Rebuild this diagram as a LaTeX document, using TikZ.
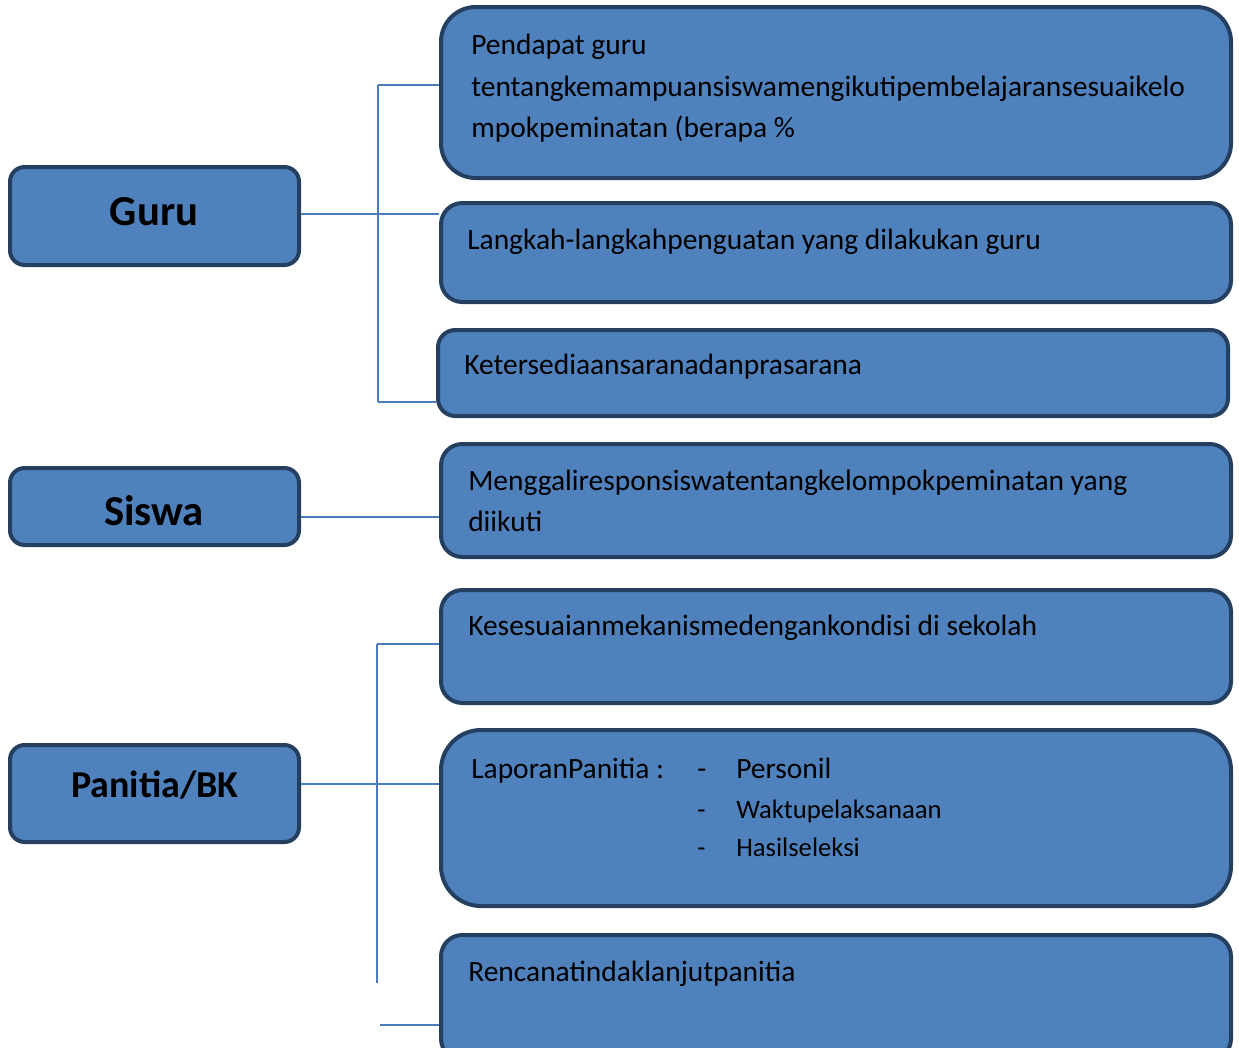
\documentclass[tikz,border=0pt]{standalone}
\usepackage{fontspec}
\setmainfont{Carlito}
\definecolor{boxfill}{HTML}{4F81BD}
\definecolor{boxline}{HTML}{243F60}
\definecolor{conn}{HTML}{4A7EBB}
\begin{document}
\begin{tikzpicture}[x=0.75pt,y=-0.75pt,
  box/.style={draw=boxline, fill=boxfill, line width=3pt, inner sep=0pt},
  lbl/.style={font=\fontsize{32}{38}\selectfont\bfseries, anchor=base, inner sep=0pt},
  txt/.style={font=\fontsize{22.1}{26}\selectfont, anchor=base west, inner sep=0pt},
  txs/.style={font=\fontsize{20}{24}\selectfont, anchor=base west, inner sep=0pt},
  conn/.style={draw=conn, line width=1.4pt}]
\useasboundingbox (0,0) rectangle (1239,1047);
% left boxes
\node[box, rounded corners=11pt, minimum width=289*0.75pt, minimum height=98*0.75pt] (guru) at (154.5,216) {};
\node[box, rounded corners=11pt, minimum width=289*0.75pt, minimum height=77*0.75pt] (siswa) at (154.5,506.5) {};
\node[box, rounded corners=11pt, minimum width=289*0.75pt, minimum height=97*0.75pt] (panitia) at (154.5,793.5) {};
\node[lbl] (guruT) at (154,225) {Guru};
\node[lbl] (siswaT) at (154,525) {Siswa};
\node[lbl, font=\fontsize{28.5}{34}\selectfont\bfseries] (panitiaT) at (155,797) {Panitia/BK};
% right boxes
\node[box, rounded corners=26pt, minimum width=790*0.75pt, minimum height=171*0.75pt] (b1) at (836,92.5) {};
\node[box, rounded corners=16pt, minimum width=790*0.75pt, minimum height=99*0.75pt] (b2) at (836,252.5) {};
\node[box, rounded corners=13pt, minimum width=790*0.75pt, minimum height=86*0.75pt] (b3) at (833,373) {};
\node[box, rounded corners=16pt, minimum width=790*0.75pt, minimum height=113*0.75pt] (b4) at (836,500.5) {};
\node[box, rounded corners=16pt, minimum width=790*0.75pt, minimum height=113*0.75pt] (b5) at (836,646.5) {};
\node[box, rounded corners=30pt, minimum width=790*0.75pt, minimum height=176*0.75pt] (b6) at (836,818) {};
\node[box, rounded corners=16pt, minimum width=790*0.75pt, minimum height=125*0.75pt] (b7) at (836,997.5) {};
% texts
\node[txt] (t1a) at (471,54) {Pendapat guru};
\node[txt] (t1b) at (471,96) {tentangkemampuansiswamengikutipembelajaransesuaikelo};
\node[txt] (t1c) at (471,137) {mpokpeminatan (berapa \%};
\node[txt] (t2) at (467,249) {Langkah-langkahpenguatan yang dilakukan guru};
\node[txt] (t3) at (464,374) {Ketersediaansaranadanprasarana};
\node[txt] (t4a) at (468,490) {Menggaliresponsiswatentangkelompokpeminatan yang};
\node[txt] (t4b) at (468,531) {diikuti};
\node[txt] (t5) at (468,635) {Kesesuaianmekanismedengankondisi di sekolah};
\node[txt] (t6a) at (471,778) {LaporanPanitia~:};
\node[txt] (d1) at (697,778) {-};
\node[txt] (t6b) at (736,778) {Personil};
\node[txs] (d2) at (697,818) {-};
\node[txs] (t6c) at (736,818) {Waktupelaksanaan};
\node[txs] (d3) at (697,856) {-};
\node[txs] (t6d) at (736,856) {Hasilseleksi};
\node[txt] (t7) at (468,981) {Rencanatindaklanjutpanitia};
% connectors
\coordinate (gy) at (0,214);
\coordinate (sy) at (0,517);
\coordinate (py) at (0,784);
\coordinate (g1) at (378,85);
\coordinate (g2) at (378,402);
\coordinate (p1) at (377,644);
\coordinate (p2) at (377,983);
\coordinate (p3) at (380,1025);
\draw[conn] (guru.east |- gy) -- (b2.west |- gy);
\draw[conn] (g1) -- (g1 -| b1.west);
\draw[conn] (g1) -- (g2);
\draw[conn] (g2) -- (g2 -| b3.west);
\draw[conn] (siswa.east |- sy) -- (b4.west |- sy);
\draw[conn] (panitia.east |- py) -- (b6.west |- py);
\draw[conn] (p1) -- (p1 -| b5.west);
\draw[conn] (p1) -- (p2);
\draw[conn] (p3) -- (p3 -| b7.west);
\end{tikzpicture}
\end{document}
